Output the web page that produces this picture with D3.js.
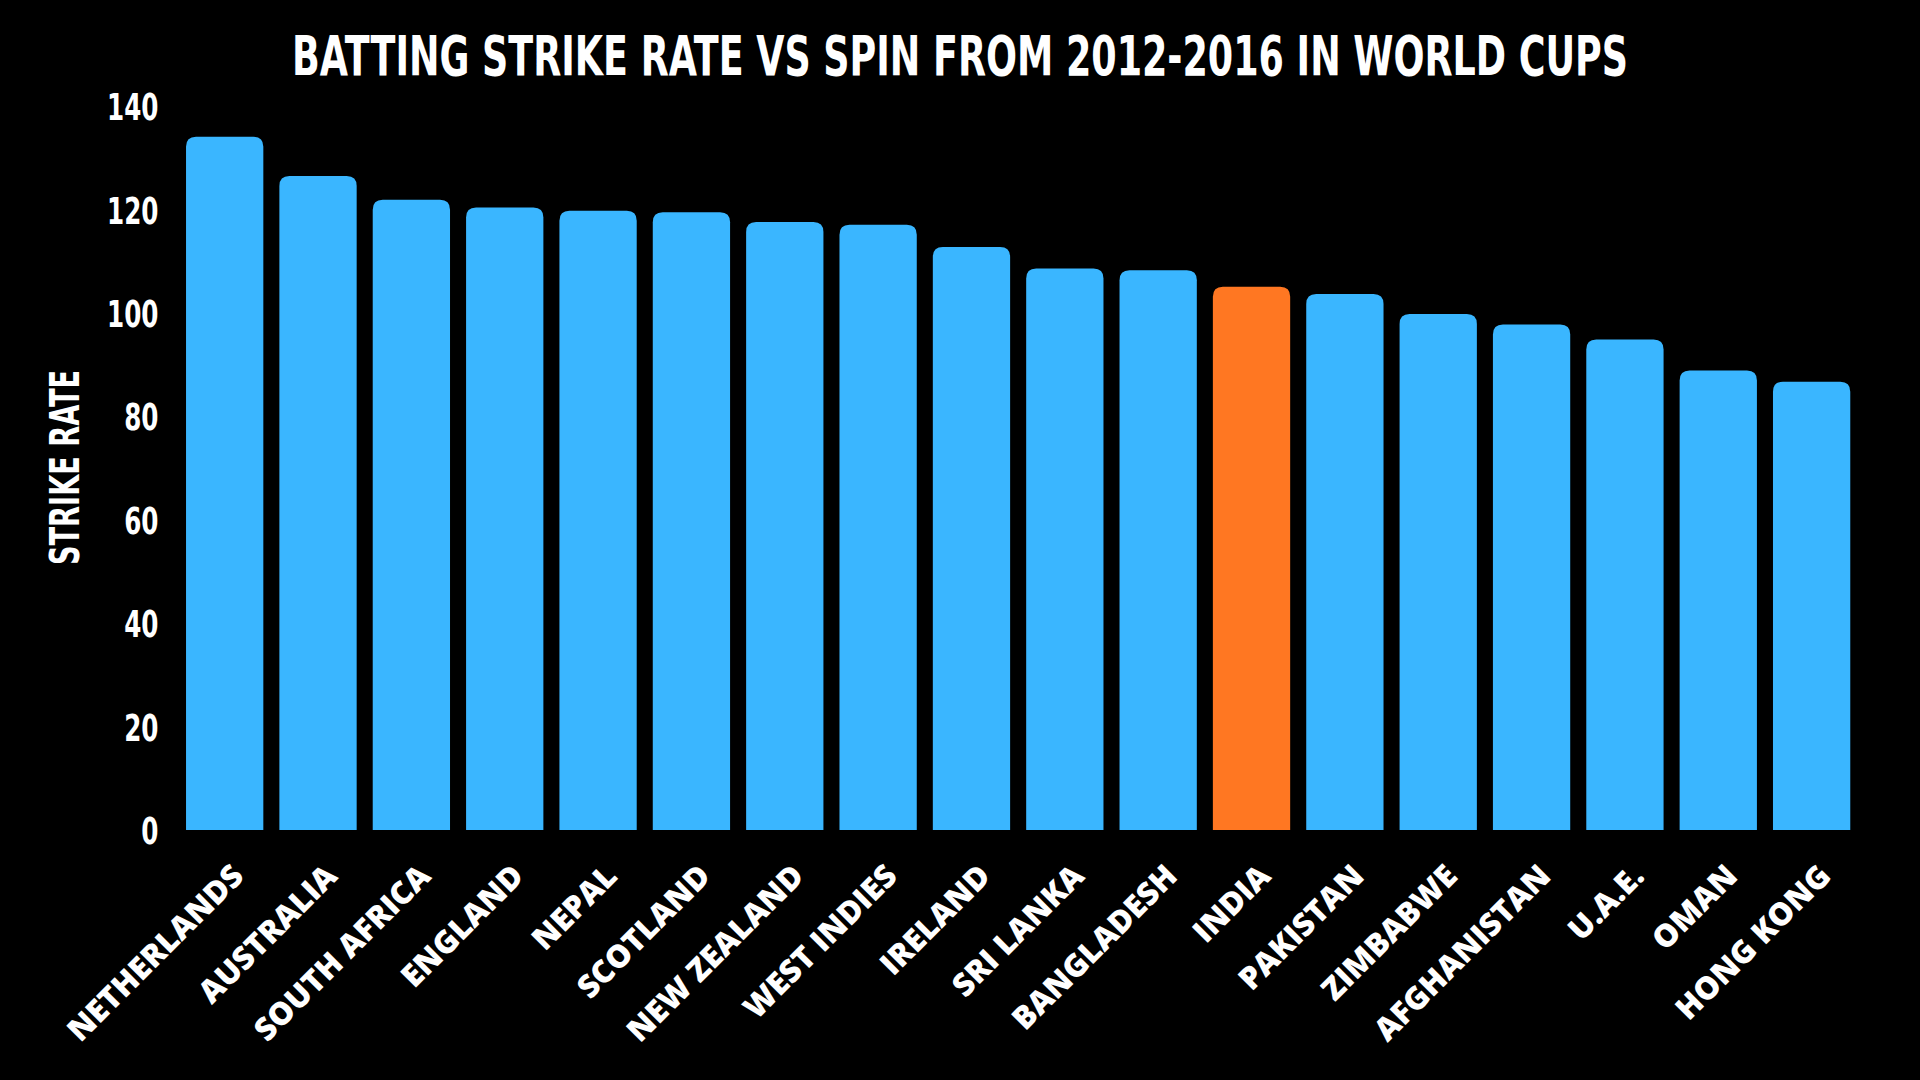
<!DOCTYPE html>
<html>
<head>
<meta charset="utf-8">
<script src="https://cdn.jsdelivr.net/npm/d3@7"></script>
<style>
  html, body { margin: 0; padding: 0; background: #000; }
  svg { display: block; }
</style>
</head>
<body>
<svg id="chart" width="1920" height="1080"></svg>
<script>
const countries = ["NETHERLANDS","AUSTRALIA","SOUTH AFRICA","ENGLAND","NEPAL","SCOTLAND","NEW ZEALAND","WEST INDIES","IRELAND","SRI LANKA","BANGLADESH","INDIA","PAKISTAN","ZIMBABWE","AFGHANISTAN","U.A.E.","OMAN","HONG KONG"];
const strikeRates = [134.1,126.5,121.9,120.4,119.8,119.5,117.6,117.1,112.8,108.6,108.3,105.1,103.7,99.8,97.8,94.9,88.9,86.7];
const yTicks = [0,20,40,60,80,100,120,140];
const highlight = "INDIA";
const titleText = "BATTING STRIKE RATE VS SPIN FROM 2012-2016 IN WORLD CUPS";
const yLabel = "STRIKE RATE";

const BLUE = "#3AB6FF", ORANGE = "#FF7722";
const condensed = "'DejaVu Sans Condensed', 'DejaVu Sans', sans-serif";

const svg = d3.select("#chart");
svg.append("rect").attr("width",1920).attr("height",1080).attr("fill","#000");

const x = d3.scaleBand().domain(countries).range([178, 1858.3]).paddingInner(0.172).paddingOuter(0.086);
const y = d3.scaleLinear().domain([0,140]).range([830, 106.3]);

// title
svg.append("text")
  .attr("x", 960).attr("y", 75)
  .attr("text-anchor","middle")
  .attr("fill","#fff")
  .style("font-family", condensed).style("font-weight","bold").style("font-size","56px")
  .attr("textLength", 1336).attr("lengthAdjust","spacingAndGlyphs")
  .text(titleText);

// y axis label
svg.append("text")
  .attr("transform","translate(78.5,467.5) rotate(-90)")
  .attr("text-anchor","middle")
  .attr("fill","#fff")
  .style("font-family", condensed).style("font-weight","bold").style("font-size","41px")
  .attr("textLength", 195).attr("lengthAdjust","spacingAndGlyphs")
  .text(yLabel);

// y axis
const yAxis = svg.append("g").attr("transform","translate(158.5,0)")
  .call(d3.axisLeft(y).tickValues(yTicks).tickSize(0).tickPadding(0).tickFormat(d3.format("d")));
yAxis.select(".domain").remove();
yAxis.selectAll("text")
  .attr("fill","#fff").attr("dy","13.5px").attr("x",0)
  .style("font-family", condensed).style("font-weight","bold").style("font-size","37px")
  .each(function(){
    const w = this.getComputedTextLength();
    d3.select(this).attr("textLength", w*0.74).attr("lengthAdjust","spacingAndGlyphs");
  });

// bars with rounded top corners
const r = 10;
function barPath(x0, w, yTop, yBase) {
  return `M${x0},${yBase} L${x0},${yTop + r} Q${x0},${yTop} ${x0 + r},${yTop} L${x0 + w - r},${yTop} Q${x0 + w},${yTop} ${x0 + w},${yTop + r} L${x0 + w},${yBase} Z`;
}
const data = countries.map((c,i) => ({c, v: strikeRates[i]}));
svg.append("g").selectAll("path").data(data).join("path")
  .attr("d", d => barPath(x(d.c), x.bandwidth(), y(d.v), y(0)))
  .attr("fill", d => d.c === highlight ? ORANGE : BLUE);

// x axis labels
const xAxis = svg.append("g").attr("transform","translate(0,830)")
  .call(d3.axisBottom(x).tickSize(0).tickPadding(0));
xAxis.select(".domain").remove();
xAxis.selectAll(".tick text")
  .attr("fill","#fff")
  .attr("text-anchor","end")
  .attr("dy", null).attr("y", null)
  .attr("transform","translate(21,48) rotate(-45)")
  .style("font-family","'Open Sans', sans-serif").style("font-weight","800").style("font-size","31.5px");
</script>
</body>
</html>
